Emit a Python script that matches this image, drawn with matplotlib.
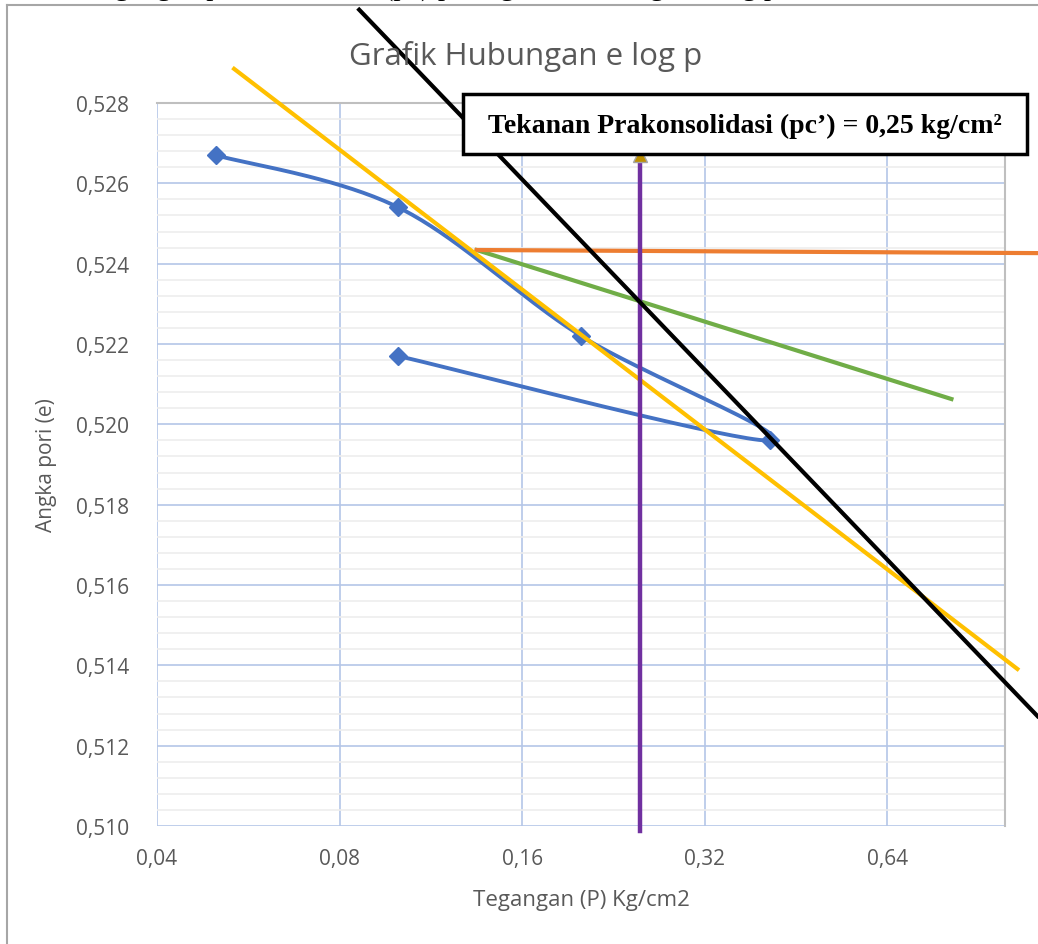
import numpy as np
import matplotlib.pyplot as plt
from matplotlib.patches import Rectangle
from matplotlib.lines import Line2D

# data (tekanan p vs angka pori e)
p = [0.05, 0.1, 0.2, 0.41, 0.1]
e = [0.5267, 0.5254, 0.5222, 0.5196, 0.5217]

xticks = [0.04, 0.08, 0.16, 0.32, 0.64]
xlabels = ['0,04', '0,08', '0,16', '0,32', '0,64']
yticks = [0.510, 0.512, 0.514, 0.516, 0.518, 0.520, 0.522, 0.524, 0.526, 0.528]

# construction lines drawn on the chart (start, end)
yellow_x = [0.0536, 1.048]
yellow_y = [0.52885, 0.51391]
black_x = [0.0857, 1.229]
black_y = [0.53036, 0.51217]
orange_x = [0.1346, 1.229]
orange_y = [0.52434, 0.52426]
green_x = [0.1346, 0.816]
green_y = [0.52434, 0.52063]
pc = 0.25
pc_top = 0.5267

grey = '#595959'
plt.rcParams['font.family'] = ['Open Sans', 'DejaVu Sans']

fig = plt.figure(figsize=(10.38, 9.45), dpi=100)
ax = fig.add_axes([157/1038, 1-827/945, 848/1038, 723/945])
ax.set_xscale('log', base=2)
ax.set_xlim(0.04, 1.0)
ax.set_ylim(0.510, 0.528)

ax.set_xticks(xticks)
ax.set_xticklabels(xlabels)
ax.xaxis.set_minor_locator(plt.NullLocator())
ax.set_yticks(yticks)
ax.set_yticklabels([('%.3f' % v).replace('.', ',') for v in yticks])
ax.set_yticks(np.arange(0.510, 0.5281, 0.0004), minor=True)
ax.tick_params(length=0, labelsize=15, colors=grey)
ax.tick_params(axis='y', pad=20)
ax.tick_params(axis='x', pad=16)
ax.tick_params(which='minor', length=0)

ax.grid(True, which='major', color='#B4C6E7', lw=1.2, zorder=0)
ax.grid(True, which='minor', axis='y', color='#EDEDED', lw=1.2, zorder=0)
ax.set_axisbelow(True)
for s in ['left', 'bottom']:
    ax.spines[s].set_visible(False)
for s in ['top', 'right']:
    ax.spines[s].set_color('#BFBFBF')
    ax.spines[s].set_linewidth(1.5)

ax.set_xlabel('Tegangan (P) Kg/cm2', fontsize=16, color=grey, labelpad=14)
ax.set_ylabel('Angka pori (e)', fontsize=15, color=grey, labelpad=14)
fig.text(526/1038, 1-56/945, 'Grafik Hubungan e log p', fontsize=22.5, color=grey,
         ha='center', va='center')

# smoothed line like excel (catmull-rom in screen space)
pts = ax.transData.transform(np.column_stack([p, e]))
ext = np.vstack([pts[0], pts, pts[-1]])
curve = []
t = np.linspace(0, 1, 40)[:, None]
for i in range(1, len(ext) - 2):
    p0, p1, p2, p3 = ext[i-1], ext[i], ext[i+1], ext[i+2]
    c1 = p1 + (p2 - p0) / 6
    c2 = p2 - (p3 - p1) / 6
    seg = (1-t)**3*p1 + 3*(1-t)**2*t*c1 + 3*(1-t)*t**2*c2 + t**3*p2
    curve.append(seg)
curve = ax.transData.inverted().transform(np.vstack(curve))
ax.plot(curve[:, 0], curve[:, 1], color='#4472C4', lw=2.8, zorder=3)
ax.plot(p, e, 'D', color='#4472C4', markersize=9, zorder=4)

ax.plot(green_x, green_y, color='#70AD47', lw=3, zorder=3, clip_on=False)
ax.plot(orange_x, orange_y, color='#ED7D31', lw=3, zorder=3, clip_on=False)
ax.plot(yellow_x, yellow_y, color='#FFC000', lw=3, zorder=5, clip_on=False)
ax.plot([pc, pc], [0.50988, pc_top], color='#7030A0', lw=3.2, zorder=5, clip_on=False)
ax.plot([pc], [pc_top], '^', color='#BF9000', markeredgecolor='#A6A6A6', markersize=10,
        zorder=5, clip_on=False)
ax.plot(black_x, black_y, color='black', lw=3, zorder=6, clip_on=False,
        solid_capstyle='butt')

# text box
fig.patches.append(Rectangle((463/1038, 1-155/945), 564/1038, 60/945, transform=fig.transFigure,
                             facecolor='white', edgecolor='black', lw=2.5, zorder=10))
fig.text(745/1038, 1-126/945, 'Tekanan Prakonsolidasi (pc\u2019) = 0,25 kg/cm\u00b2',
         fontsize=20, fontweight='bold', family=['Liberation Serif', 'DejaVu Serif'],
         ha='center', va='center', zorder=11)

# chart frame and document text above it
fig.add_artist(Line2D([7/1038, 7/1038], [0, 1-6/945], transform=fig.transFigure, color='#A6A6A6', lw=1.5))
fig.add_artist(Line2D([7/1038, 1], [1-6/945, 1-6/945], transform=fig.transFigure, color='#A6A6A6', lw=1.5))
fig.text(778/1038, 1+4/945, 'Menentukan tegangan prakonsolidasi (pc) pada grafik hubungan e log p',
         fontsize=21, family=['Liberation Serif', 'DejaVu Serif'], ha='right', va='baseline')

fig.savefig('out.png', dpi=100)
